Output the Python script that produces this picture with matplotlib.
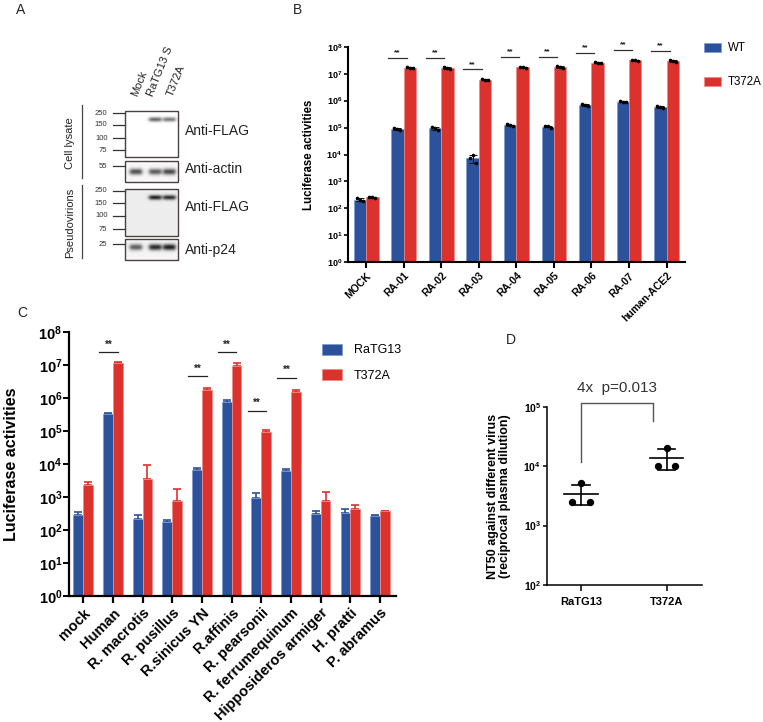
import numpy as np
import matplotlib
matplotlib.use("Agg")
import matplotlib.pyplot as plt
from matplotlib.patches import Rectangle

plt.rcParams['font.family'] = ['Liberation Sans', 'DejaVu Sans']
plt.rcParams['mathtext.fontset'] = 'custom'
plt.rcParams['mathtext.rm'] = 'Liberation Sans'
plt.rcParams['mathtext.bf'] = 'Liberation Sans:bold'
plt.rcParams['mathtext.it'] = 'Liberation Sans:italic'

BLUE = '#2c529b'
RED = '#dc322d'
BLUE_EDGE = '#7f9bd0'
RED_EDGE = '#f08a86'

# ---------------- Panel A data ----------------
lanes = ['Mock', 'RaTG13 S', 'T372A']
blot_names = ['Anti-FLAG', 'Anti-actin', 'Anti-FLAG', 'Anti-p24']
band_flag_lysate = [0.0, 0.70, 0.62]
band_actin = [0.78, 0.72, 0.82]
band_flag_pv = [0.0, 0.95, 0.90]
band_p24 = [0.70, 0.95, 1.0]
markers_flag = ['250', '150', '100', '75']

# ---------------- Panel B data ----------------
b_cats = ['MOCK', 'RA-01', 'RA-02', 'RA-03', 'RA-04', 'RA-05', 'RA-06', 'RA-07', 'human-ACE2']
b_wt_reps = [
    [240, 210, 185],
    [100000, 92000, 82000],
    [105000, 95000, 80000],
    [7200, 9500, 4700],
    [130000, 120000, 115000],
    [115000, 110000, 100000],
    [750000, 680000, 620000],
    [950000, 920000, 900000],
    [620000, 580000, 540000],
]
b_mut_reps = [
    [270, 265, 245],
    [17000000, 16500000, 16000000],
    [17000000, 16000000, 15000000],
    [6200000, 6000000, 5800000],
    [17500000, 17000000, 16500000],
    [19000000, 17500000, 16500000],
    [26000000, 25000000, 24000000],
    [32000000, 31000000, 30000000],
    [31000000, 29000000, 28000000],
]
b_sig = [False, True, True, True, True, True, True, True, True]

# ---------------- Panel C data ----------------
c_cats = ['mock', 'Human', 'R. macrotis', 'R. pusillus', 'R.sinicus YN', 'R.affinis',
          'R. pearsonii', 'R. ferrumequinum', 'Hipposideros armiger', 'H. pratti', 'P. abramus']
c_ratg13 = [280, 330000, 222, 175, 6600, 760000, 940, 6200, 308, 322, 268]
c_ratg13_err = [85, 30000, 55, 30, 1200, 110000, 420, 700, 75, 125, 20]
c_t372a = [2280, 12000000, 3550, 760, 1780000, 9500000, 92000, 1550000, 745, 425, 388]
c_t372a_err = [540, 900000, 5600, 1000, 280000, 2000000, 17000, 280000, 680, 165, 0]
c_sig_y = [None, 2.5e7, None, None, 4.7e6, 2.5e7, 4.2e5, 4.2e6, None, None, None]

# ---------------- Panel D data ----------------
d_groups = ['RaTG13', 'T372A']
d_values = [[2530, 2530, 5190], [10190, 10190, 20800]]
d_fold = '4x  p=0.013'

fig = plt.figure(figsize=(7.63, 7.22), dpi=100)
W, H = 763.0, 722.0


def px_axes(x0, y0, x1, y1):
    return fig.add_axes([x0 / W, 1 - y1 / H, (x1 - x0) / W, (y1 - y0) / H])


def pow_label(e):
    return r'$\mathbf{10^{%d}}$' % e


# ================= Panel A =================
axa = px_axes(0, 0, 290, 290)
axa.axis('off')

lane_x = [136, 155, 169]
box_x0, box_x1 = 125.3, 178.3
blots = [
    (110.7, 156.7, 119.0, band_flag_lysate, 1.6, 1.0),
    (161.3, 182.3, 172.0, band_actin, 2.2, 0.97),
    (188.7, 235.7, 197.0, band_flag_pv, 1.7, 0.93),
    (239.3, 260.0, 247.3, band_p24, 2.2, 0.96),
]
for (y0, y1, yb, inten, sig_y, bg) in blots:
    nx, ny = 200, 120
    xs = np.linspace(box_x0, box_x1, nx)
    ys = np.linspace(y0, y1, ny)
    X, Y = np.meshgrid(xs, ys)
    img = np.full_like(X, bg)
    for lx, a in zip(lane_x, inten):
        prof_x = 1.0 / (1 + np.exp((np.abs(X - lx) - 6.0) / 1.0))
        prof_y = np.exp(-0.5 * ((Y - yb) / sig_y) ** 2)
        img -= a * 0.85 * prof_x * prof_y
    img = np.clip(img, 0, 1)
    axa.imshow(img, cmap='gray', vmin=0, vmax=1, extent=[box_x0, box_x1, y1, y0],
               aspect='auto', interpolation='bilinear', zorder=1)
    axa.add_patch(Rectangle((box_x0, y0), box_x1 - box_x0, y1 - y0, fill=False,
                            ec='#4a4040', lw=1.0, zorder=3))

axa.set_xlim(0, 290)
axa.set_ylim(290, 0)

for ys_, labs in [([113.3, 125.0, 138.3, 150.0], markers_flag),
                  ([191.0, 203.3, 216.0, 229.3], markers_flag),
                  ([166.0], ['55']), ([244.3], ['25'])]:
    for yy, lab in zip(ys_, labs):
        axa.plot([113.3, 125.3], [yy, yy], color='#333333', lw=0.9)
        axa.text(107.5, yy, lab, ha='right', va='center', fontsize=5.5, color='#333333')

for yy, name in zip([130.7, 169.3, 207.3, 250.0], blot_names):
    axa.text(185.3, yy, name, ha='left', va='center', fontsize=10, color='#222222')

axa.plot([81.7, 81.7], [105, 178.3], color='#444444', lw=0.9)
axa.plot([81.7, 81.7], [185, 258.3], color='#444444', lw=0.9)
axa.text(70, 143.3, 'Cell lysate', rotation=90, ha='center', va='center', fontsize=8, color='#222222')
axa.text(70, 223.3, 'Pseudovirions', rotation=90, ha='center', va='center', fontsize=8, color='#222222')

for lx, lab in zip([134, 150, 170], lanes):
    axa.text(lx, 96, lab, rotation=68, rotation_mode='anchor', ha='left', va='center',
             fontsize=8, color='#222222')

# ================= Panel B =================
axb = px_axes(347.7, 46.7, 685, 262.3)
xb = np.arange(len(b_cats))
bw = 0.33
wt_mean = np.array([np.mean(r) for r in b_wt_reps])
wt_sd = np.array([np.std(r, ddof=1) for r in b_wt_reps])
mu_mean = np.array([np.mean(r) for r in b_mut_reps])
mu_sd = np.array([np.std(r, ddof=1) for r in b_mut_reps])
axb.bar(xb - bw / 2, wt_mean, bw, color=BLUE, edgecolor=BLUE_EDGE, lw=0.5, label='WT', zorder=2)
axb.bar(xb + bw / 2, mu_mean, bw, color=RED, edgecolor=RED_EDGE, lw=0.5, label='T372A', zorder=2)
axb.errorbar(xb - bw / 2, wt_mean, yerr=wt_sd, fmt='none', ecolor='#111111', elinewidth=0.7,
             capsize=3, capthick=0.7, zorder=3)
axb.errorbar(xb + bw / 2, mu_mean, yerr=mu_sd, fmt='none', ecolor='#111111', elinewidth=0.7,
             capsize=3, capthick=0.7, zorder=3)
offs = [-0.08, 0.0, 0.08]
for i in range(len(b_cats)):
    for o, v in zip(offs, b_wt_reps[i]):
        axb.scatter(xb[i] - bw / 2 + o, v, s=7, color='black', zorder=4, lw=0)
    for o, v in zip(offs, b_mut_reps[i]):
        axb.scatter(xb[i] + bw / 2 + o, v, s=7, color='black', zorder=4, lw=0)
    if b_sig[i]:
        ys = mu_mean[i] * 2.4
        axb.plot([xb[i] - 0.41, xb[i] + 0.08], [ys, ys], color='#333333', lw=0.9)
        axb.text(xb[i] - 0.165, ys * 1.15, '**', ha='center', va='bottom', fontsize=6,
                 fontweight='bold', color='#222222')
axb.set_yscale('log')
axb.set_ylim(1, 1e8)
axb.set_xlim(-0.49, 8.49)
axb.set_yticks([10.0 ** e for e in range(9)])
axb.set_yticklabels([pow_label(e) for e in range(9)], fontsize=6.5)
axb.yaxis.set_minor_locator(matplotlib.ticker.NullLocator())
axb.set_xticks(xb)
axb.set_xticklabels(b_cats, rotation=45, ha='right', rotation_mode='anchor', fontsize=7.5,
                    fontweight='bold')
axb.set_ylabel('Luciferase activities', fontsize=8.3, fontweight='bold', labelpad=8)
for s in ['top', 'right']:
    axb.spines[s].set_visible(False)
for s in ['left', 'bottom']:
    axb.spines[s].set_linewidth(1.5)
axb.tick_params(axis='x', width=1.5, length=4, pad=2)
axb.tick_params(axis='y', width=1.2, length=3, pad=1)
axb.legend(loc='upper left', bbox_to_anchor=(1.035, 1.052), frameon=False, fontsize=8.3,
           handlelength=1.5, handleheight=0.9, labelspacing=1.9, handletextpad=0.6,
           borderaxespad=0.2)

# ================= Panel C =================
axc = px_axes(69.3, 332.3, 396, 596)
xc = np.arange(len(c_cats))
axc.bar(xc - bw / 2, c_ratg13, bw, color=BLUE, edgecolor=BLUE_EDGE, lw=0.6, label='RaTG13', zorder=2)
axc.bar(xc + bw / 2, c_t372a, bw, color=RED, edgecolor=RED_EDGE, lw=0.6, label='T372A', zorder=2)
axc.errorbar(xc - bw / 2, c_ratg13, yerr=[np.zeros(len(xc)), c_ratg13_err], fmt='none',
             ecolor=BLUE, elinewidth=1.2, capsize=3, capthick=1.2, zorder=1)
axc.errorbar(xc + bw / 2, c_t372a, yerr=[np.zeros(len(xc)), c_t372a_err], fmt='none',
             ecolor=RED, elinewidth=1.2, capsize=3, capthick=1.2, zorder=1)
for i, sy in enumerate(c_sig_y):
    if sy is not None:
        axc.plot([xc[i] - 0.46, xc[i] + 0.16], [sy, sy], color='#222222', lw=0.9)
        axc.text(xc[i] - 0.15, sy * 1.2, '**', ha='center', va='bottom', fontsize=7,
                 fontweight='bold', color='#222222')
axc.set_yscale('log')
axc.set_ylim(1, 1e8)
axc.set_xlim(-0.47, 10.54)
axc.set_yticks([10.0 ** e for e in range(9)])
axc.set_yticklabels([pow_label(e) for e in range(9)], fontsize=10.5)
axc.yaxis.set_minor_locator(matplotlib.ticker.NullLocator())
axc.set_xticks(xc)
axc.set_xticklabels(c_cats, rotation=45, ha='right', rotation_mode='anchor', fontsize=10.5,
                    fontweight='bold')
axc.set_ylabel('Luciferase activities', fontsize=11.5, fontweight='bold', labelpad=14)
for s in ['top', 'right']:
    axc.spines[s].set_visible(False)
for s in ['left', 'bottom']:
    axc.spines[s].set_linewidth(1.6)
axc.tick_params(axis='x', width=1.6, length=5, pad=2)
axc.tick_params(axis='y', width=1.4, length=4, pad=1)
axc.legend(loc='upper left', bbox_to_anchor=(0.74, 1.0), frameon=False, fontsize=9,
           handlelength=1.6, handleheight=1.0, labelspacing=1.0, handletextpad=0.9)

# ================= Panel D =================
axd = px_axes(546.7, 407.3, 701.7, 584.7)
xd = np.arange(len(d_groups))
pt_off = [-0.1, 0.1, 0.0]
for i, vals in enumerate(d_values):
    gm = np.exp(np.mean(np.log(vals)))
    axd.scatter([xd[i] + o for o in pt_off], vals, s=28, color='black', zorder=3, lw=0)
    axd.plot([xd[i] - 0.195, xd[i] + 0.195], [gm * 1.06, gm * 1.06], color='black', lw=1.2)
    lo, hi = gm * 0.68, gm * 1.5
    axd.plot([xd[i], xd[i]], [lo, hi], color='black', lw=1.2)
    axd.plot([xd[i] - 0.1, xd[i] + 0.1], [lo, lo], color='black', lw=1.2)
    axd.plot([xd[i] - 0.1, xd[i] + 0.1], [hi, hi], color='black', lw=1.2)
axd.set_yscale('log')
axd.set_ylim(100, 1e5)
axd.set_xlim(-0.4, 1.41)
axd.set_yticks([1e2, 1e3, 1e4, 1e5])
axd.set_yticklabels([pow_label(e) for e in [2, 3, 4, 5]], fontsize=7.5)
axd.yaxis.set_minor_locator(matplotlib.ticker.NullLocator())
axd.set_xticks(xd)
axd.set_xticklabels(d_groups, fontsize=8, fontweight='bold')
axd.set_ylabel('NT50 against different virus\n(reciprocal plasma dilution)', fontsize=9,
               fontweight='bold', labelpad=9, linespacing=1.0)
for s in ['top', 'right']:
    axd.spines[s].set_visible(False)
for s in ['left', 'bottom']:
    axd.spines[s].set_linewidth(1.1)
axd.tick_params(axis='x', width=1.1, length=4, pad=5)
axd.tick_params(axis='y', width=1.1, length=3, pad=1)
axd.plot([0, 0, 0.84, 0.84], [1.2e4, 1.18e5, 1.18e5, 5.8e4], color='#555555', lw=1.0, clip_on=False)
axd.text(0.42, 1.6e5, d_fold, ha='center', va='bottom', fontsize=11, color='#333333')

for lab, x, y in [('A', 21, 10), ('B', 297, 10), ('C', 22, 313), ('D', 511, 340)]:
    fig.text(x / W, 1 - y / H, lab, fontsize=10, ha='center', va='center', color='#222222')

fig.savefig('out.png', dpi=100)
